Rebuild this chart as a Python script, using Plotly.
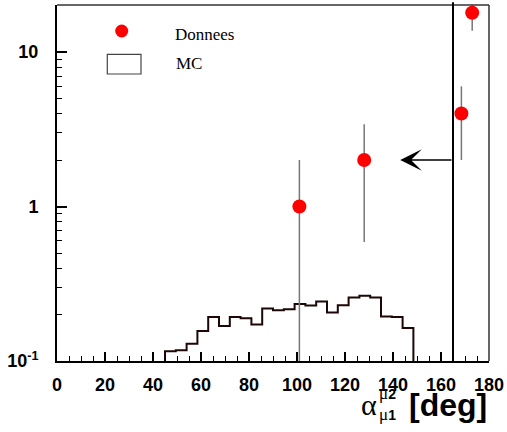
import math
import plotly.graph_objects as go

# ---- data ----
data_x = [101, 128, 168.5, 173]
data_y = [1, 2, 4, 18]
err_plus = [1.0, 1.41, 2.0, 4.24]
err_minus = [0.999, 1.41, 2.0, 4.24]

mc_edges = [45 + 4.5 * i for i in range(24)]
mc_vals = [0.1156, 0.1173, 0.1295, 0.1566, 0.193, 0.1687, 0.193, 0.1893,
           0.172, 0.2186, 0.2134, 0.216, 0.2335, 0.2286, 0.2427, 0.206,
           0.230, 0.2576, 0.2644, 0.2576, 0.194, 0.193, 0.1637]
mc_base = 0.09

cut_x = 165
arrow_tip_x = 143
arrow_y = 2

x_ticks = [0, 20, 40, 60, 80, 100, 120, 140, 160, 180]
y_ticks = [0.1, 1, 10]
y_ticktext = ["10<sup>-1</sup>", "1", "10"]
y_minor = [0.2, 0.3, 0.4, 0.5, 0.6, 0.7, 0.8, 0.9, 2, 3, 4, 5, 6, 7, 8, 9, 20]

W, H = 507, 432
L, R, T, B = 57, 18, 5, 71
PW, PH = W - L - R, H - T - B

def px(xp):
    return (xp - L) / PW

def py(yp):
    return (H - B - yp) / PH

fig = go.Figure()

# MC histogram (step outline)
hx = [mc_edges[0]] + mc_edges[:-1] + [mc_edges[-1]]
hy = [mc_base] + mc_vals + [mc_base]
fig.add_trace(go.Scatter(x=hx, y=hy, mode="lines", line=dict(shape="hv", color="#1c0606", width=2),
                         showlegend=False, hoverinfo="skip"))

# Data points
fig.add_trace(go.Scatter(x=data_x, y=data_y, mode="markers",
                         marker=dict(color="#ff0000", size=14),
                         error_y=dict(type="data", array=err_plus, arrayminus=err_minus,
                                      color="#777777", thickness=1.5, width=0),
                         showlegend=False, cliponaxis=True))

tick_font = dict(family="Liberation Sans, Arial, sans-serif", size=18, color="black", weight="bold")

fig.update_layout(
    width=W, height=H,
    margin=dict(l=L, r=R, t=T, b=B, autoexpand=False),
    paper_bgcolor="white", plot_bgcolor="white",
    showlegend=False,
    xaxis=dict(range=[0, 180], tickvals=x_ticks, ticks="inside", ticklen=9, tickwidth=1.5,
               tickcolor="black", showline=True, linewidth=2, linecolor="black", automargin=False,
               showgrid=False, zeroline=False, tickfont=tick_font, ticklabelstandoff=6,
               minor=dict(ticks="inside", ticklen=5, tickwidth=1.2, tickcolor="black", dtick=5, tick0=0,
                          showgrid=False)),
    yaxis=dict(type="log", range=[-1, 1.305], tickvals=y_ticks, ticktext=y_ticktext,
               ticks="inside", ticklen=10, tickwidth=1.5, tickcolor="black", automargin=False,
               showline=True, linewidth=2, linecolor="black", showgrid=False, zeroline=False,
               tickfont=tick_font, ticklabelstandoff=13,
               minor=dict(ticks="inside", ticklen=5, tickwidth=1.2, tickcolor="black",
                          tickmode="array", tickvals=y_minor, showgrid=False)),
)

shapes = [
    # top and right frame
    dict(type="line", xref="paper", yref="paper", x0=0, x1=1, y0=1, y1=1,
         line=dict(color="#333333", width=1.5)),
    dict(type="line", xref="paper", yref="paper", x0=1, x1=1, y0=0, y1=1,
         line=dict(color="#333333", width=1.5)),
    # cut line
    dict(type="line", xref="x", yref="paper", x0=cut_x, x1=cut_x, y0=0, y1=1.008,
         line=dict(color="black", width=2)),
    # legend marker
    dict(type="circle", xref="paper", yref="paper", xsizemode="pixel", ysizemode="pixel",
         xanchor=px(121.7), yanchor=py(31), x0=-6.5, x1=6.5, y0=-6.5, y1=6.5,
         fillcolor="#ff0000", line=dict(width=0)),
    # legend box
    dict(type="rect", xref="paper", yref="paper", x0=px(107.3), x1=px(141), y0=py(74), y1=py(54.3),
         fillcolor="white", line=dict(color="#444444", width=1.2)),
]
fig.update_layout(shapes=shapes)

serif = "Liberation Serif, Times New Roman, serif"
sans_b = "Liberation Sans, Arial, sans-serif"
mu = "<span style='font-family:Liberation Serif;font-size:17px'>μ</span>"
annotations = [
    dict(x=arrow_tip_x, y=math.log10(arrow_y), ax=cut_x, ay=math.log10(arrow_y),
         xref="x", yref="y", axref="x", ayref="y", text="", showarrow=True,
         arrowhead=3, arrowsize=2.4, arrowwidth=1.5, arrowcolor="black"),
    dict(x=px(173), y=py(35), xref="paper", yref="paper", text="Donnees", showarrow=False,
         xanchor="left", yanchor="middle", font=dict(family=serif, size=17, color="black")),
    dict(x=px(174), y=py(63.5), xref="paper", yref="paper", text="MC", showarrow=False,
         xanchor="left", yanchor="middle", font=dict(family=serif, size=17, color="black")),
    # axis title pieces
    dict(x=px(368.5), y=py(404), xref="paper", yref="paper", text="α", showarrow=False,
         xanchor="center", yanchor="middle", font=dict(family=serif, size=30, color="black")),
    dict(x=px(377), y=py(393), xref="paper", yref="paper", text=mu + "<b>2</b>", showarrow=False,
         xanchor="left", yanchor="middle", font=dict(family=sans_b, size=14, color="black")),
    dict(x=px(377), y=py(414), xref="paper", yref="paper", text=mu + "<b>1</b>", showarrow=False,
         xanchor="left", yanchor="middle", font=dict(family=sans_b, size=14, color="black")),
    dict(x=px(489), y=py(405), xref="paper", yref="paper", text="<b>[deg]</b>", showarrow=False,
         xanchor="right", yanchor="middle", font=dict(family=sans_b, size=32, color="black")),
]
fig.update_layout(annotations=annotations)

fig.write_html("out.html", config={"displayModeBar": False},
               post_script="document.body.style.margin='0';document.body.style.overflow='hidden';")
